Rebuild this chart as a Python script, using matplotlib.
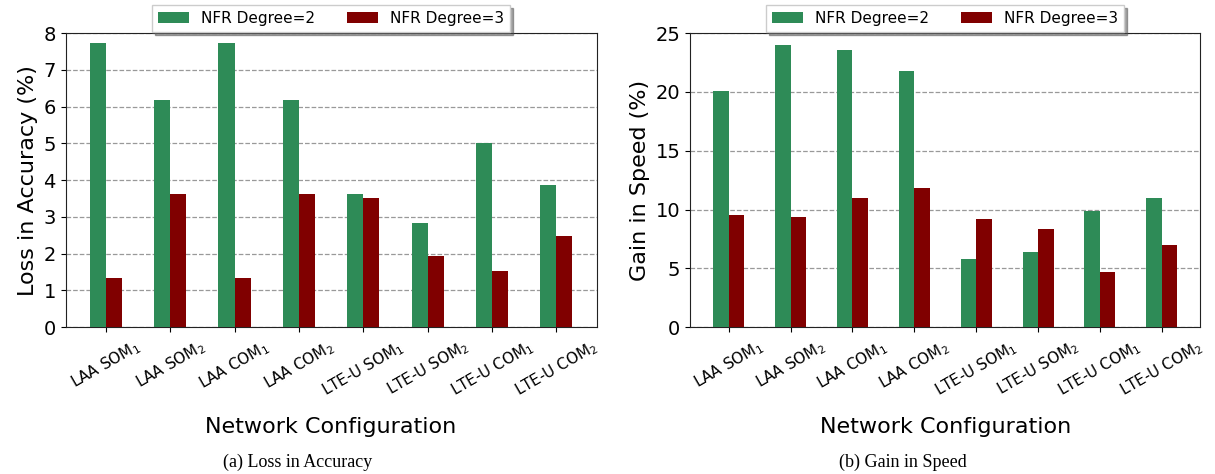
import matplotlib
matplotlib.use("Agg")
import matplotlib.pyplot as plt
import numpy as np

categories = ['LAA SOM$_1$', 'LAA SOM$_2$', 'LAA COM$_1$', 'LAA COM$_2$',
              'LTE-U SOM$_1$', 'LTE-U SOM$_2$', 'LTE-U COM$_1$', 'LTE-U COM$_2$']
acc_deg2 = [7.72, 6.19, 7.72, 6.19, 3.63, 2.83, 5.02, 3.87]
acc_deg3 = [1.33, 3.63, 1.33, 3.63, 3.52, 1.93, 1.52, 2.48]
speed_deg2 = [20.05, 24.0, 23.55, 21.75, 5.8, 6.4, 9.9, 10.95]
speed_deg3 = [9.5, 9.35, 11.0, 11.85, 9.2, 8.3, 4.7, 7.0]
series_labels = ['NFR Degree=2', 'NFR Degree=3']
green = '#2e8b57'
red = '#800000'

fig = plt.figure(figsize=(12.15, 4.74), dpi=100)
ax1 = fig.add_axes([0.054, 0.310, 0.437, 0.620])
ax2 = fig.add_axes([0.568, 0.310, 0.420, 0.620])

x = np.arange(len(categories))
w = 0.25

def draw(ax, d2, d3, ylabel, ymax, yticks):
    ax.bar(x - w / 2, d2, w, color=green, label=series_labels[0], zorder=3)
    ax.bar(x + w / 2, d3, w, color=red, label=series_labels[1], zorder=3)
    ax.set_ylim(0, ymax)
    ax.set_yticks(yticks)
    ax.set_xticks(x)
    ax.set_xticklabels(categories, rotation=30, ha='center', fontsize=11)
    ax.tick_params(axis='y', labelsize=14)
    ax.tick_params(axis='x', pad=4)
    ax.yaxis.grid(True, linestyle='--', color='#999999', linewidth=0.9, zorder=0)
    ax.set_axisbelow(True)
    ax.set_ylabel(ylabel, fontsize=16)
    ax.set_xlabel('Network Configuration', fontsize=16, labelpad=12)
    for s in ax.spines.values():
        s.set_color('#222222')
    ax.legend(loc='center', bbox_to_anchor=(0.5, 1.05), ncol=2, fontsize=11,
              shadow=True, fancybox=False, framealpha=1, edgecolor='#cccccc',
              columnspacing=2.1, handlelength=2.0)

draw(ax1, acc_deg2, acc_deg3, 'Loss in Accuracy (%)', 8, range(0, 9))
draw(ax2, speed_deg2, speed_deg3, 'Gain in Speed (%)', 25, range(0, 26, 5))

fig.text(0.245, 0.015, '(a) Loss in Accuracy', ha='center', fontsize=13,
         family='Liberation Serif')
fig.text(0.743, 0.015, '(b) Gain in Speed', ha='center', fontsize=13,
         family='Liberation Serif')

fig.savefig('out.png', dpi=100)
